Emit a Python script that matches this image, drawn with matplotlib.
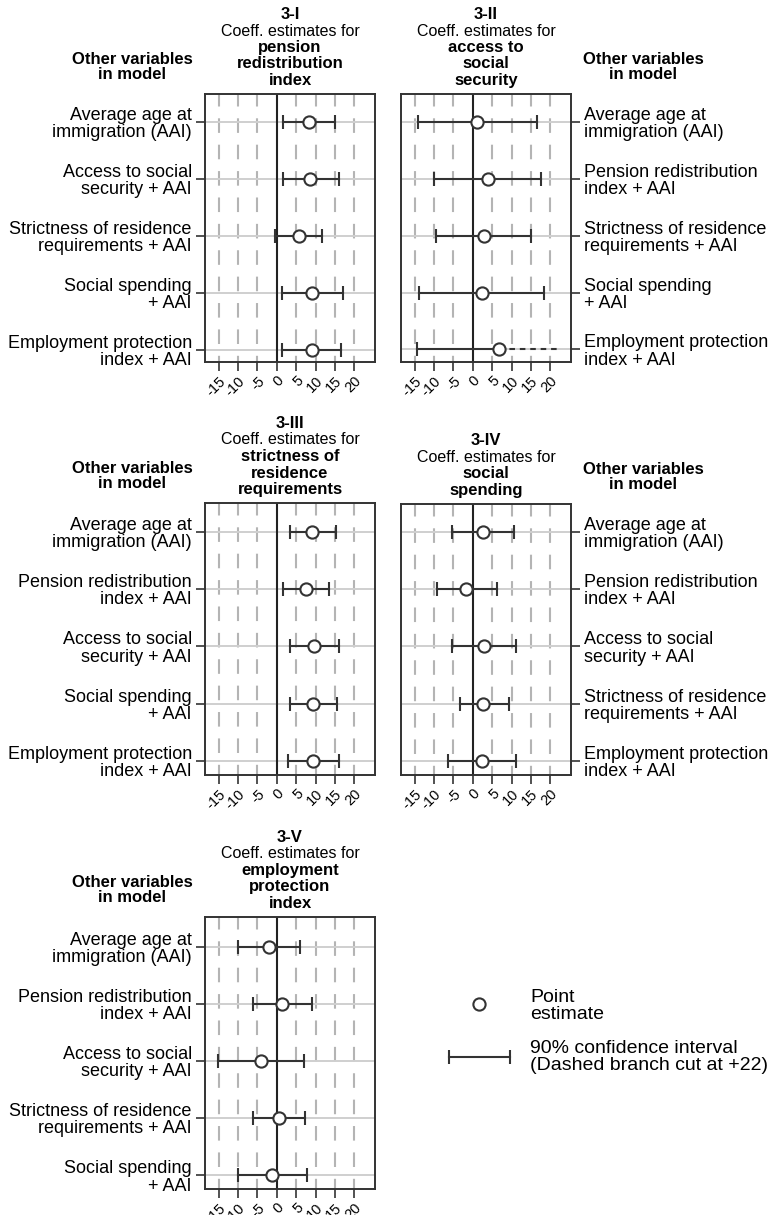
import numpy as np
import matplotlib
matplotlib.use('Agg')
import matplotlib.pyplot as plt

plt.rcParams['font.family'] = ['Liberation Sans', 'DejaVu Sans']
plt.rcParams['lines.scale_dashes'] = False

# ---- data ----
CUT = 22  # branch cut for long intervals
x_ticks = [-15, -10, -5, 0, 5, 10, 15, 20]

AAI = 'Average age at\nimmigration (AAI)'
PEN = 'Pension redistribution\nindex + AAI'
ACC = 'Access to social\nsecurity + AAI'
STR = 'Strictness of residence\nrequirements + AAI'
SOC = 'Social spending\n+ AAI'
EMP = 'Employment protection\nindex + AAI'

labels_1 = [AAI, ACC, STR, SOC, EMP]
est_1 = [8.4, 8.6, 5.6, 9.0, 9.0]
lo_1 = [1.5, 1.5, -0.4, 1.3, 1.3]
hi_1 = [15.0, 15.9, 11.6, 17.0, 16.5]

labels_2 = [AAI, PEN, STR, SOC, EMP]
est_2 = [1.2, 3.8, 2.9, 2.4, 6.7]
lo_2 = [-14.1, -9.9, -9.5, -13.8, -14.5]
hi_2 = [16.6, 17.5, 15.1, 18.3, np.inf]

labels_3 = [AAI, PEN, ACC, SOC, EMP]
est_3 = [9.0, 7.6, 9.5, 9.3, 9.3]
lo_3 = [3.3, 1.7, 3.3, 3.4, 2.8]
hi_3 = [15.3, 13.5, 15.9, 15.6, 15.9]

labels_4 = [AAI, PEN, ACC, STR, EMP]
est_4 = [2.7, -1.7, 2.9, 2.7, 2.3]
lo_4 = [-5.4, -9.1, -5.4, -3.4, -6.3]
hi_4 = [10.6, 6.2, 11.1, 9.2, 11.1]

labels_5 = [AAI, PEN, ACC, STR, SOC]
est_5 = [-2.1, 1.4, -4.2, 0.5, -1.2]
lo_5 = [-10.1, -6.2, -15.2, -6.2, -10.1]
hi_5 = [6.1, 9.1, 6.9, 7.2, 7.7]

DARK = '#333333'
W, H = 773, 1215
PX = 72 / 100  # points per pixel
LW = 1.5


def draw_panel(ax, est, lo, hi, labels, side, title_lines, ylim):
    rows = np.arange(len(est))
    ax.set_xlim(-18.5, 25.3)
    ax.set_ylim(ylim)

    # grid: dashed gray verticals, solid zero line, light horizontal rows
    for v in x_ticks:
        if v == 0:
            ax.axvline(0, color='#222222', lw=1.5, zorder=2)
        else:
            ax.plot([v, v], [ylim[1], ylim[0]], color='#b4b4b4', lw=1.5,
                    linestyle=(1.5, (10.5, 8.5)), zorder=1)
    for r in rows:
        ax.axhline(r, color='#cfcfcf', lw=1.4, zorder=1)

    # intervals
    for r, e, a, b in zip(rows, est, lo, hi):
        if np.isfinite(b) and b < CUT:
            ax.plot([a, b], [r, r], color=DARK, lw=LW, zorder=3,
                    marker='|', ms=10, mew=LW)
        else:
            ax.plot([a, e], [r, r], color=DARK, lw=LW, zorder=3)
            ax.plot([a], [r], color=DARK, marker='|', ms=10, mew=LW, zorder=3)
            ax.plot([e, CUT], [r, r], color=DARK, lw=LW, zorder=3,
                    linestyle=(0, (4, 3.5)))
    ax.plot(est, rows, 'o', mfc='white', mec=DARK, ms=8.8, mew=LW, zorder=5)

    for s in ax.spines.values():
        s.set_color(DARK)
        s.set_linewidth(1.4)

    ax.set_xticks(x_ticks)
    ax.set_xticklabels([str(v) for v in x_ticks], fontsize=10.5)
    plt.setp(ax.get_xticklabels(), rotation=45, ha='right',
             rotation_mode='anchor')
    ax.tick_params(axis='x', length=6.5, width=1.2, color=DARK, pad=2)

    ax.set_yticks(rows)
    ax.set_yticklabels(labels, fontsize=13, linespacing=1.02)
    if side == 'right':
        ax.yaxis.tick_right()
    ax.tick_params(axis='y', length=6.5, width=1.2, color=DARK, pad=3)

    # header for the label column
    hx = -73 * PX if side == 'left' else 170 * PX + 72 * PX
    ax.annotate('Other variables\nin model', xy=(0, 1), xycoords='axes fraction',
                xytext=(hx, 27 * PX), textcoords='offset points',
                ha='center', va='center', fontsize=12, fontweight='bold',
                linespacing=0.92)

    # stacked title lines (bottom line sits just above the box)
    for i, (txt, bold) in enumerate(reversed(title_lines)):
        ax.annotate(txt, xy=(0.5, 1), xycoords='axes fraction',
                    xytext=(0, (13.5 + 16.5 * i) * PX),
                    textcoords='offset points', ha='center', va='center',
                    fontsize=12 if bold else 11.5,
                    fontweight='bold' if bold else 'normal')


fig = plt.figure(figsize=(W / 100, H / 100), dpi=100)


def add_axes(left_px, top_px, bottom_px):
    return fig.add_axes([left_px / W, 1 - bottom_px / H, 170 / W,
                         (bottom_px - top_px) / H])


ax1 = add_axes(205, 94, 362)
ax2 = add_axes(401, 94, 362)
ax3 = add_axes(205, 503, 775)
ax4 = add_axes(401, 504, 775)
ax5 = add_axes(205, 917, 1189)

draw_panel(ax1, est_1, lo_1, hi_1, labels_1, 'left',
           [('3-I', True), ('Coeff. estimates for', False), ('pension', True),
            ('redistribution', True), ('index', True)], (4.21, -0.49))
draw_panel(ax2, est_2, lo_2, hi_2, labels_2, 'right',
           [('3-II', True), ('Coeff. estimates for', False), ('access to', True),
            ('social', True), ('security', True)], (4.22, -0.49))
draw_panel(ax3, est_3, lo_3, hi_3, labels_3, 'left',
           [('3-III', True), ('Coeff. estimates for', False),
            ('strictness of', True), ('residence', True),
            ('requirements', True)], (4.24, -0.5))
draw_panel(ax4, est_4, lo_4, hi_4, labels_4, 'right',
           [('3-IV', True), ('Coeff. estimates for', False), ('social', True),
            ('spending', True)], (4.24, -0.48))
draw_panel(ax5, est_5, lo_5, hi_5, labels_5, 'left',
           [('3-V', True), ('Coeff. estimates for', False),
            ('employment', True), ('protection', True), ('index', True)],
           (4.24, -0.52))

# legend, drawn in a pixel-space overlay
lax = fig.add_axes([0, 0, 1, 1], zorder=-1)
lax.set_xlim(0, W)
lax.set_ylim(H, 0)
lax.axis('off')
lax.plot([479], [1004], 'o', mfc='white', mec=DARK, ms=8.8, mew=LW)
lax.plot([449, 510], [1057, 1057], color=DARK, lw=LW, marker='|', ms=10,
         mew=LW)
lax.text(530, 1006, 'Point\nestimate', fontsize=14, va='center', ha='left',
         linespacing=0.97)
lax.text(530, 1057, '90% confidence interval\n(Dashed branch cut at +22)',
         fontsize=14, va='center', ha='left', linespacing=0.97)

fig.savefig('out.png', dpi=100)
